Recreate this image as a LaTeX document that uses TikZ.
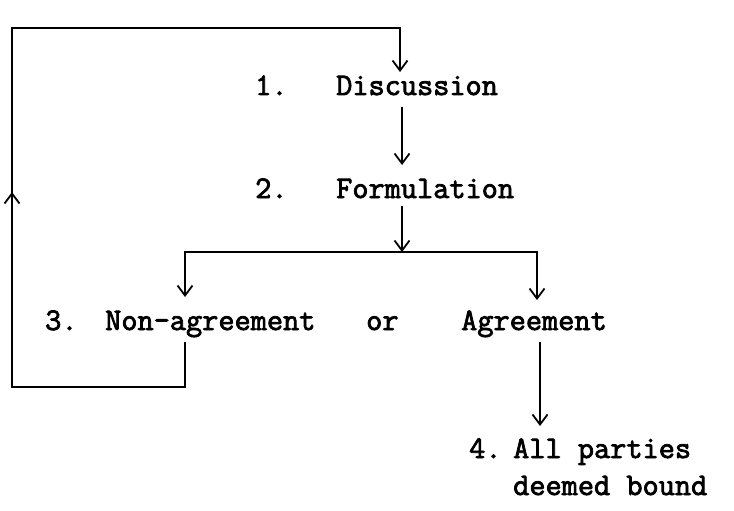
\documentclass[tikz,border=0pt]{standalone}
\usepackage{fontspec}
\setmonofont[FakeBold=2.5]{Latin Modern Mono}
\usetikzlibrary{arrows.meta}
\begin{document}
\begin{tikzpicture}[x=1pt,y=-1pt,
  lbl/.style={anchor=base west,inner sep=0pt,font=\ttfamily\fontsize{31.4}{34}\selectfont},
  wire/.style={line width=1.8pt,line join=miter},
  arr/.style={wire,-{Straight Barb[length=10pt,width=15pt,line width=1.8pt]}}]
\useasboundingbox[fill=white] (0,0) rectangle (734,511);
% texts
\node[lbl] (n1) at (255,95) {1.};
\node[lbl] (disc) at (336,95) {Discussion};
\node[lbl] (n2) at (255,198) {2.};
\node[lbl] (form) at (336,198) {Formulation};
\node[lbl] (n3) at (45,330) {3.};
\node[lbl] (nonag) at (105,330) {Non-agreement};
\node[lbl] (or) at (366,330) {or};
\node[lbl] (agree) at (461,330) {Agreement};
\node[lbl] (n4) at (469,458) {4.};
\node[lbl] (allp) at (513,458) {All parties};
\node[lbl] (deem) at (513,495) {deemed bound};
% coordinates
\coordinate (dOut) at (402,107);
\coordinate (fIn) at (402,165);
\coordinate (fOut) at (402,206);
\coordinate (junc) at (402,252);
\coordinate (nIn) at (185,297);
\coordinate (aIn) at (537,300);
\coordinate (nOut) at (185,342);
\coordinate (loopBL) at (12,387);
\coordinate (loopTL) at (12,28);
\coordinate (dIn) at (400,72);
\coordinate (aOut) at (540,342);
\coordinate (allIn) at (540,426);
\coordinate (upA) at (12,240);
\coordinate (upB) at (12,192);
% connectors
\draw[arr] (dOut) -- (fIn);
\draw[arr] (fOut) -- (junc);
\draw[arr] (junc) -| (nIn);
\draw[arr] (junc) -| (aIn);
\draw[arr] (nOut) |- (loopBL) -- (loopTL) -| (dIn);
\draw[arr] (upA) -- (upB);
\draw[arr] (aOut) -- (allIn);
\end{tikzpicture}
\end{document}
